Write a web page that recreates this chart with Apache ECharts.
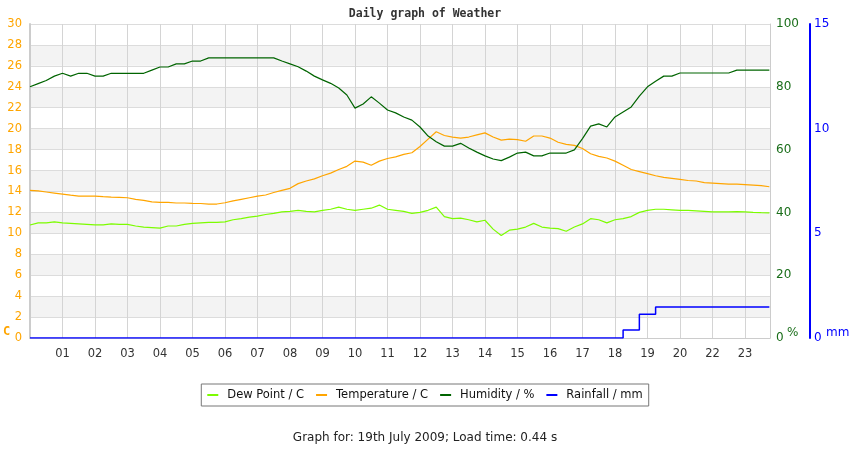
<!DOCTYPE html>
<html>
<head>
<meta charset="utf-8">
<script src="https://cdn.jsdelivr.net/npm/echarts@6/dist/echarts.min.js"></script>
<style>
  html, body { margin: 0; padding: 0; background: #fff; }
  #chart { width: 850px; height: 450px; }
</style>
</head>
<body>
<div id="chart"></div>
<script>
// hour labels under the vertical grid lines (no 21 in the source)
var hourLabels = ['01','02','03','04','05','06','07','08','09','10','11','12','13','14','15','16','17','18','19','20','22','23'];

// sample positions along the x axis, in hour slots
var hours = [0,0.25,0.5,0.75,1,1.25,1.5,1.75,2,2.25,2.5,2.75,3,3.25,3.5,3.75,4,4.25,4.5,4.75,
  5,5.25,5.5,5.75,6,6.25,6.5,6.75,7,7.25,7.5,7.75,8,8.25,8.5,8.75,9,9.25,9.5,9.75,
  10,10.25,10.5,10.75,11,11.25,11.5,11.75,12,12.25,12.5,12.75,13,13.25,13.5,13.75,14,14.25,14.5,14.75,
  15,15.25,15.5,15.75,16,16.25,16.5,16.75,17,17.25,17.5,17.75,18,18.25,18.5,18.75,19,19.25,19.5,19.75,
  20,20.25,20.5,20.75,21,21.25,21.5,21.75,22,22.25,22.5,22.75];

var dewPoint = [10.8,11.0,11.0,11.1,11.0,10.95,10.9,10.85,10.8,10.8,10.9,10.85,10.85,10.7,10.6,10.55,10.5,10.7,10.7,10.85,
  10.95,11.0,11.05,11.05,11.1,11.3,11.4,11.55,11.65,11.8,11.9,12.05,12.1,12.2,12.1,12.05,12.2,12.3,12.5,12.3,
  12.2,12.3,12.4,12.7,12.3,12.2,12.1,11.9,12.0,12.2,12.5,11.6,11.4,11.45,11.3,11.1,11.25,10.4,9.8,10.3,
  10.4,10.6,10.95,10.6,10.5,10.45,10.2,10.6,10.9,11.4,11.3,11.0,11.3,11.4,11.6,12.0,12.2,12.3,12.3,12.25,
  12.2,12.2,12.15,12.1,12.05,12.05,12.05,12.07,12.05,12.0,11.97,11.95];

var temperature = [14.1,14.05,13.95,13.85,13.75,13.65,13.56,13.56,13.56,13.5,13.45,13.44,13.4,13.25,13.15,13.0,12.96,12.96,12.9,12.9,
  12.86,12.85,12.8,12.8,12.92,13.1,13.25,13.4,13.55,13.66,13.9,14.1,14.3,14.75,15.0,15.2,15.5,15.75,16.1,16.4,
  16.9,16.8,16.5,16.9,17.15,17.3,17.55,17.7,18.3,19.0,19.7,19.35,19.2,19.1,19.2,19.4,19.6,19.2,18.9,19.0,
  18.95,18.8,19.3,19.3,19.1,18.7,18.5,18.4,18.1,17.6,17.35,17.2,16.9,16.5,16.1,15.9,15.7,15.5,15.35,15.25,
  15.15,15.05,15.0,14.85,14.8,14.75,14.7,14.7,14.65,14.6,14.55,14.45];

var humidity = [80,81,82,83.4,84.3,83.4,84.3,84.3,83.4,83.4,84.3,84.3,84.3,84.3,84.3,85.3,86.3,86.3,87.3,87.3,
  88.2,88.2,89.2,89.2,89.2,89.2,89.2,89.2,89.2,89.2,89.2,88.2,87.3,86.4,85,83.4,82.2,81.1,79.6,77.4,
  73.2,74.5,76.8,74.8,72.6,71.7,70.4,69.4,67.2,64.3,62.5,61.1,61.1,62,60.5,59.2,58,57,56.5,57.6,
  58.9,59.2,58,58,58.9,58.9,58.9,59.9,63.5,67.5,68.2,67.2,70.4,72,73.6,77,80,81.8,83.4,83.4,
  84.4,84.4,84.4,84.4,84.4,84.4,84.4,85.3,85.3,85.3,85.3,85.3];

var rainfall = [0,0,0,0,0,0,0,0,0,0,0,0,0,0,0,0,0,0,0,0,
  0,0,0,0,0,0,0,0,0,0,0,0,0,0,0,0,0,0,0,0,
  0,0,0,0,0,0,0,0,0,0,0,0,0,0,0,0,0,0,0,0,
  0,0,0,0,0,0,0,0,0,0,0,0,0,0.38,0.38,1.14,1.14,1.48,1.48,1.48,
  1.48,1.48,1.48,1.48,1.48,1.48,1.48,1.48,1.48,1.48,1.48,1.48];

var leftTicks = { min: 0, max: 30, interval: 2 };
var humTicks = { min: 0, max: 100, interval: 20 };
var rainTicks = { min: 0, max: 15, interval: 5 };

function pairs(vals) {
  var out = [];
  for (var i = 0; i < vals.length; i++) out.push([hours[i], vals[i]]);
  return out;
}

var chart = echarts.init(document.getElementById('chart'));
var baseFont = 'DejaVu Sans';

var option = {
  animation: false,
  backgroundColor: '#fff',
  title: {
    text: 'Daily graph of Weather',
    left: 'center',
    top: 3,
    textStyle: { fontFamily: 'DejaVu Sans Mono', fontWeight: 'bold', fontSize: 11.5, color: '#333' }
  },
  grid: { left: 30, right: 80, top: 24, bottom: 112 },
  legend: {
    bottom: 44,
    left: 'center',
    padding: [5, 6],
    borderColor: '#777',
    borderWidth: 1,
    itemGap: 12,
    itemWidth: 11,
    itemHeight: 2,
    icon: 'rect',
    textStyle: { fontFamily: baseFont, fontSize: 11.5, color: '#111', padding: [0, 0, 0, 4] },
    data: ['Dew Point / C', 'Temperature / C', 'Humidity / %', 'Rainfall / mm']
  },
  xAxis: {
    type: 'value',
    min: 0,
    max: 22.77,
    interval: 1,
    axisLine: { show: true, lineStyle: { color: '#ccc' } },
    axisTick: { show: false },
    splitLine: { show: true, lineStyle: { color: '#d4d4d4' } },
    axisLabel: {
      color: '#333',
      fontFamily: baseFont,
      fontSize: 11.5,
      margin: 10,
      showMaxLabel: false,
      formatter: function (v) {
        return v >= 1 ? (hourLabels[v - 1] || '') : '';
      }
    }
  },
  yAxis: [
    {
      type: 'value',
      position: 'left',
      min: leftTicks.min, max: leftTicks.max, interval: leftTicks.interval,
      axisLine: { show: true, lineStyle: { color: '#ccc', width: 2 } },
      axisTick: { show: false },
      axisLabel: { color: '#FFA500', fontFamily: baseFont, fontSize: 11.5, margin: 8 },
      splitLine: { show: true, lineStyle: { color: '#dcdcdc' } },
      splitArea: { show: true, areaStyle: { color: ['#fff', '#f3f3f3'] } }
    },
    {
      type: 'value',
      position: 'right',
      min: humTicks.min, max: humTicks.max, interval: humTicks.interval,
      axisLine: { show: true, lineStyle: { color: '#ccc' } },
      axisTick: { show: false },
      axisLabel: { color: '#1a6e1a', fontFamily: baseFont, fontSize: 12, margin: 6 },
      splitLine: { show: false }
    },
    {
      type: 'value',
      position: 'right',
      offset: 40,
      min: rainTicks.min, max: rainTicks.max, interval: rainTicks.interval,
      axisLine: { show: true, lineStyle: { color: '#0000FF', width: 2 } },
      axisTick: { show: false },
      axisLabel: { color: '#0000FF', fontFamily: baseFont, fontSize: 12, margin: 4 },
      splitLine: { show: false }
    }
  ],
  graphic: [
    { type: 'text', left: 3, top: 326, style: { text: 'C', fill: '#FFA500', font: 'bold 12px DejaVu Sans Mono' } },
    { type: 'text', left: 787, top: 327, style: { text: '%', fill: '#1a6e1a', font: '12px DejaVu Sans' } },
    { type: 'text', left: 826, top: 327, style: { text: 'mm', fill: '#0000FF', font: '12px DejaVu Sans' } },
    { type: 'text', left: 'center', top: 432, style: { text: 'Graph for: 19th July 2009; Load time: 0.44 s', fill: '#222', font: '12px DejaVu Sans' } }
  ],
  series: [
    {
      name: 'Dew Point / C', type: 'line', yAxisIndex: 0, showSymbol: false,
      itemStyle: { color: '#7CFC00' }, lineStyle: { color: '#7CFC00', width: 1.2 },
      data: pairs(dewPoint), z: 3
    },
    {
      name: 'Temperature / C', type: 'line', yAxisIndex: 0, showSymbol: false,
      itemStyle: { color: '#FFA500' }, lineStyle: { color: '#FFA500', width: 1.2 },
      data: pairs(temperature), z: 3
    },
    {
      name: 'Humidity / %', type: 'line', yAxisIndex: 1, showSymbol: false,
      itemStyle: { color: '#006400' }, lineStyle: { color: '#006400', width: 1.2 },
      data: pairs(humidity), z: 4
    },
    {
      name: 'Rainfall / mm', type: 'line', yAxisIndex: 2, showSymbol: false, step: 'end',
      itemStyle: { color: '#0000FF' }, lineStyle: { color: '#0000FF', width: 1.5 },
      data: pairs(rainfall), z: 5
    }
  ]
};

chart.setOption(option);
</script>
</body>
</html>
